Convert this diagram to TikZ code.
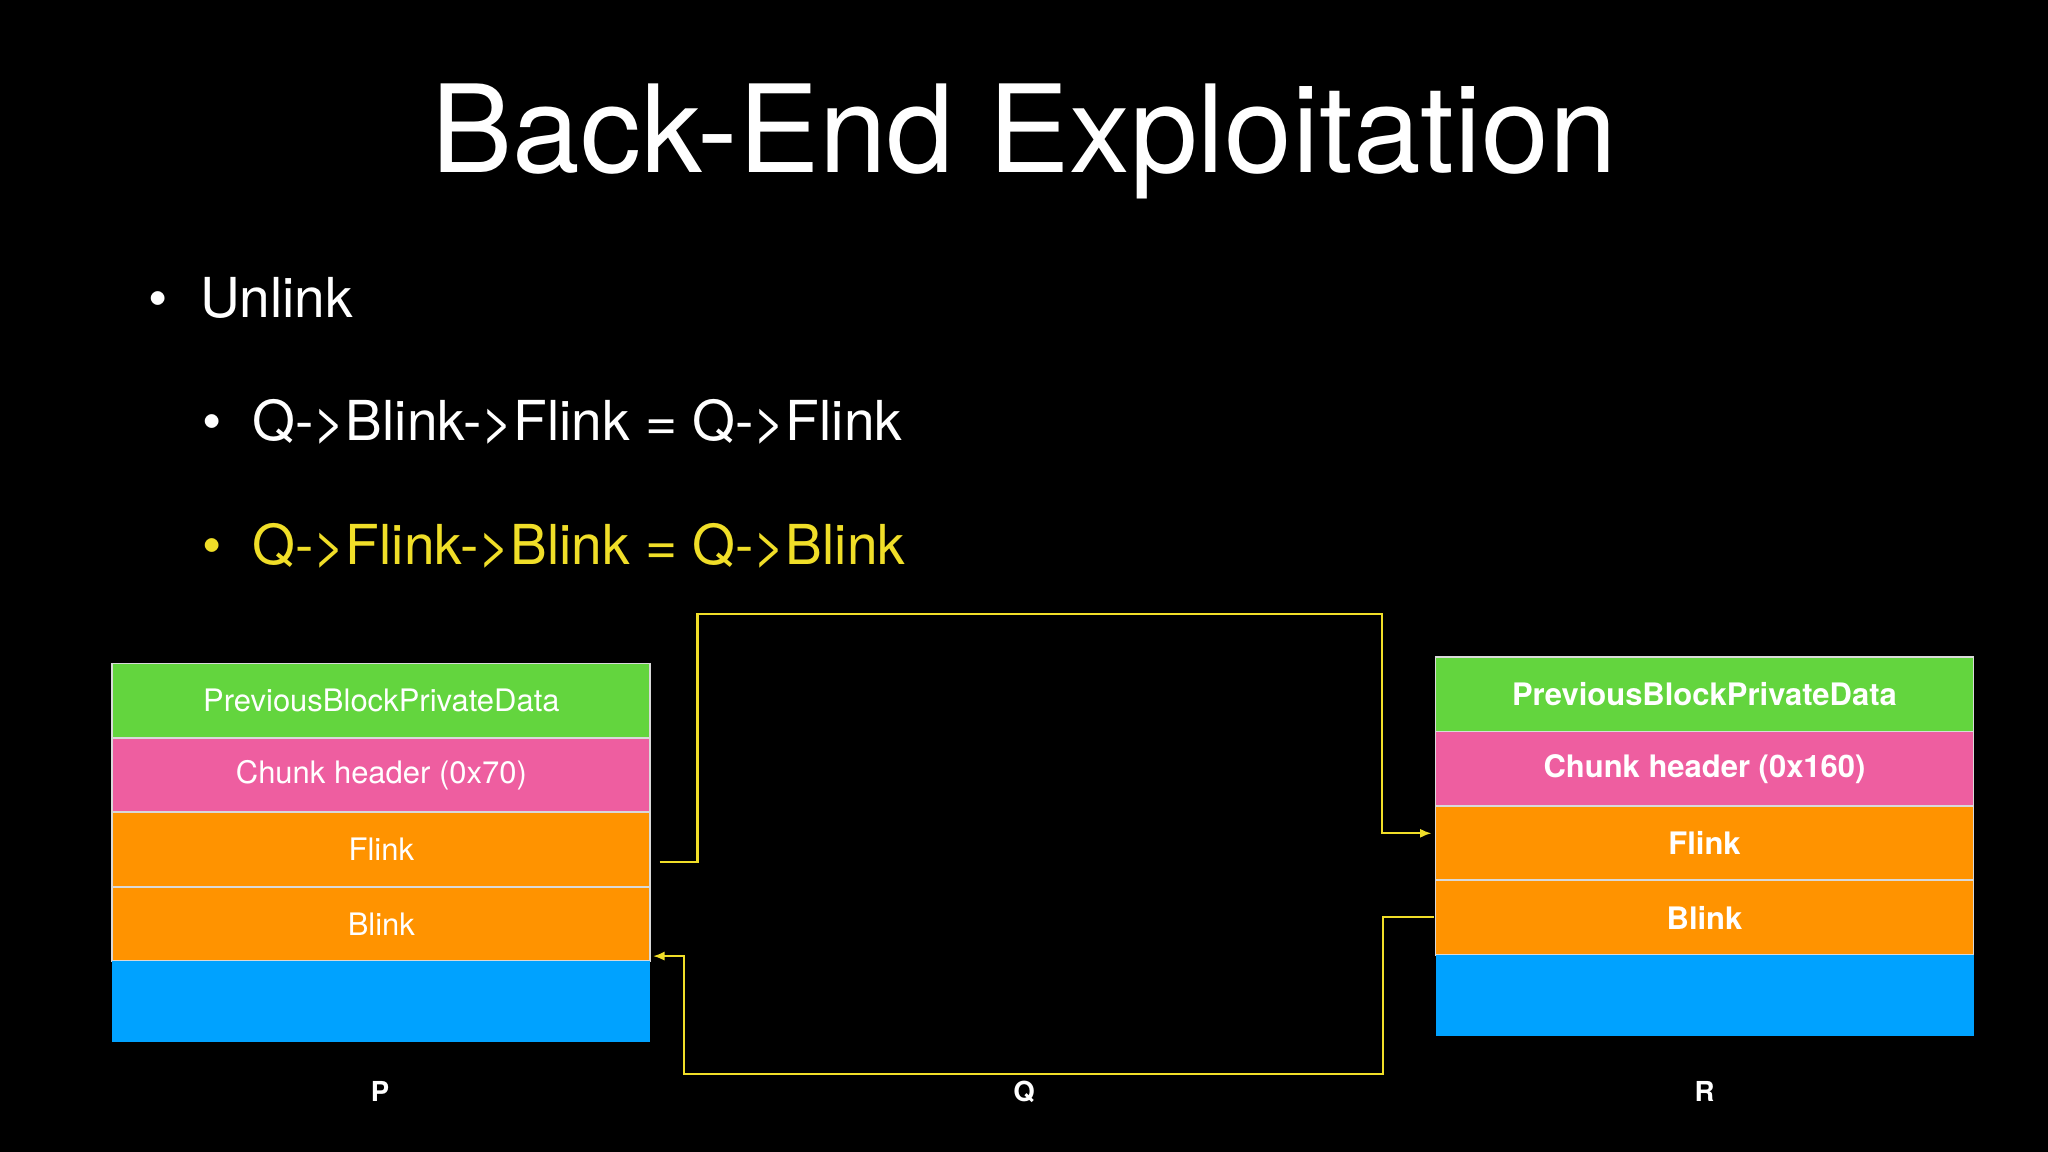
\documentclass[tikz,border=0pt]{standalone}
\usepackage{fontspec}
\setmainfont{TeX Gyre Heros}
\usetikzlibrary{arrows.meta}
\definecolor{cgreen}{RGB}{99,213,62}
\definecolor{cpink}{RGB}{238,94,160}
\definecolor{corange}{RGB}{255,147,0}
\definecolor{cblue}{RGB}{0,162,255}
\definecolor{cyel}{RGB}{240,222,40}
\begin{document}
\begin{tikzpicture}[x=0.02cm,y=-0.02cm,
  row/.style={draw=white!85!black,line width=0.8pt,minimum width=8.24cm,minimum height=1.14cm,inner sep=0pt,text=white,font=\fontsize{13.5}{16}\selectfont},
  lbl/.style={text=white,font=\bfseries\fontsize{12}{14}\selectfont},
  conn/.style={draw=cyel,line width=0.9pt},
  txt/.style={anchor=base west,text=white,font=\fontsize{24}{28}\selectfont,inner sep=0pt}]
\fill[black] (0,0) rectangle (1568,882);
\useasboundingbox (0,0) rectangle (1568,882);
\node[text=white,font=\fontsize{53}{60}\selectfont,inner sep=0pt,anchor=base] (title) at (784,132) {Back-End Exploitation};
\node[txt] (b1) at (113,243) {•};
\node[txt] (t1) at (153,243) {Unlink};
\node[txt] (b2) at (155,337) {•};
\node[txt] (t2) at (193,337) {Q->Blink->Flink = Q->Flink};
\node[txt,text=cyel] (b3) at (155,432) {•};
\node[txt,text=cyel] (t3) at (193,432) {Q->Flink->Blink = Q->Blink};
% P
\node[row,fill=cgreen] (pg) at (292,536.5) {PreviousBlockPrivateData};
\node[row,fill=cpink] (pp) at (292,593.5) {Chunk header (0x70)};
\node[row,fill=corange] (pf) at (292,650.5) {Flink};
\node[row,fill=corange] (pb) at (292,707.5) {Blink};
\node[row,fill=cblue,draw=none,minimum height=1.24cm] (pd) at (292,767) {};
% R
\node[row,fill=cgreen,font=\bfseries\fontsize{13.5}{16}\selectfont] (rg) at (1305,531.5) {PreviousBlockPrivateData};
\node[row,fill=cpink,font=\bfseries\fontsize{13.5}{16}\selectfont] (rp) at (1305,588.5) {Chunk header (0x160)};
\node[row,fill=corange,font=\bfseries\fontsize{13.5}{16}\selectfont] (rf) at (1305,645.5) {Flink};
\node[row,fill=corange,font=\bfseries\fontsize{13.5}{16}\selectfont] (rb) at (1305,702.5) {Blink};
\node[row,fill=cblue,draw=none,minimum height=1.24cm] (rd) at (1305,762) {};
\node[lbl] (lp) at (291,836) {P};
\node[lbl] (lq) at (784,836) {Q};
\node[lbl] (lr) at (1305,836) {R};
% connectors
\coordinate (s1) at (505,660);
\coordinate (e1) at (1096,638);
\draw[conn,-{Latex[length=5pt,width=4pt]}] (s1) -- (534,660) -- (534,470) -- (1058,470) -- (1058,638) -- (e1);
\coordinate (s2) at (1098,702);
\coordinate (e2) at (500,732);
\draw[conn,-{Latex[length=5pt,width=4pt]}] (s2) -- (1059,702) -- (1059,822) -- (524,822) -- (524,732) -- (e2);
\end{tikzpicture}
\end{document}
